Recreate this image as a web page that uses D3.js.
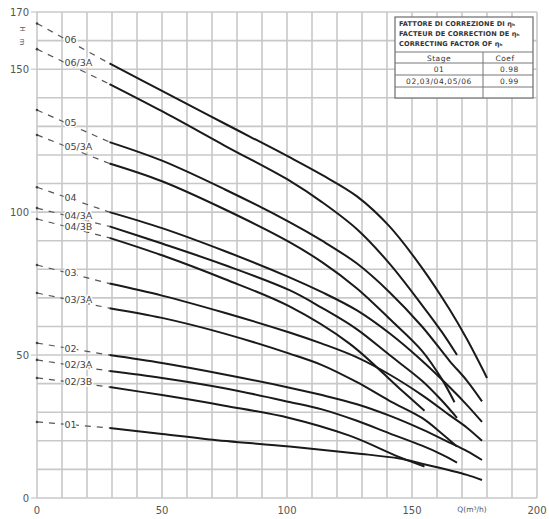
<!DOCTYPE html>
<html><head><meta charset="utf-8">
<script src="https://cdn.jsdelivr.net/npm/d3@7"></script>
<style>body{margin:0;background:#fff}svg{display:block}</style>
</head><body>
<svg id="c" width="549" height="519"></svg>
<script>
// ---- data ----
const curveNames = ["06","06/3A","05","05/3A","04","04/3A","04/3B","03","03/3A","02","02/3A","02/3B","01"];
const shutoffH = [166,157,135.7,127,108.7,101.4,97.6,81.5,71.7,54.2,48.3,42,26.6]; // H at Q=0 (dashed part)
const c06   = [[29,152],[50,142.4],[75,131],[101,119.2],[114,113],[128,105.5],[141,95],[154,80.5],[165,66],[172,55.5],[180,42]];
const c06_3A= [[29,144.8],[50,135.3],[75,123.3],[101,111],[114,103.5],[128,94],[141,82],[154,67.5],[162,58],[168,50]];
const c05   = [[29,124.5],[50,118],[75,108],[101,96.5],[114,90],[128,82],[141,72],[154,60],[165,48],[172,41],[178,33.8]];
const c05_3A= [[29,117],[50,110.8],[75,101],[101,89.5],[114,82.5],[128,73.3],[141,62.7],[154,51.5],[162,41.5],[167,33.5]];
const c04   = [[29,100],[50,94.4],[75,86.4],[101,77.2],[114,72],[128,65.6],[141,57.6],[154,48],[165,38.8],[172,32.5],[178,26.6]];
const c04_3A= [[29,95],[50,89],[75,81.5],[101,72.7],[114,66.5],[128,59],[141,50],[154,41],[162,34],[168,28]];
const c04_3B= [[29,91],[50,84.9],[75,76.6],[101,67],[125,54],[145,38.3],[155,30.5]];
const c03   = [[29,75],[50,70.8],[75,64.8],[101,57.9],[114,54],[128,49.2],[141,43.2],[154,36],[165,29],[172,24.6],[178,20]];
const c03_3A= [[29,66.4],[50,63],[75,57.5],[101,50.5],[114,46.5],[128,40.5],[141,34],[154,28],[162,22.5],[168,18]];
const c02   = [[29,50],[50,47.2],[75,43.2],[101,38.6],[114,36],[128,32.8],[141,28.8],[154,24],[165,19.4],[172,16.4],[178,13.3]];
const c02_3A= [[29,44.4],[50,42],[75,38.4],[101,33.6],[114,31],[128,27],[141,22.6],[154,18.3],[162,15.2],[168,12.4]];
const c02_3B= [[29,38.8],[50,36],[75,32.3],[101,28],[125,21.8],[145,14.3],[155,11]];
const c01   = [[29,24.5],[50,22.4],[69,20.5],[101,18],[128,15.6],[145,13.8],[154,12],[165,9.7],[172,8.1],[178,6.3]];
const curves = [c06,c06_3A,c05,c05_3A,c04,c04_3A,c04_3B,c03,c03_3A,c02,c02_3A,c02_3B,c01];
const xTicks = [0,50,100,150,200];
const yTicks = [0,50,100,150,170];
const legendTitle = ["FATTORE DI CORREZIONE DI \u03b7\u2095","FACTEUR DE CORRECTION DE \u03b7\u2095","CORRECTING FACTOR OF \u03b7\u2095"];
const legendHead = ["Stage","Coef"];
const legendStages = ["01","02,03/04,05/06"];
const legendCoefs = ["0.98","0.99"];

// ---- drawing ----
const svg = d3.select("#c");
const x = d3.scaleLinear([0,200],[37,537]);
const y = d3.scaleLinear([0,170],[498,12]);
const gridCol = "#c8c8c8", txtCol = "#555";

const g = svg.append("g");
g.selectAll("line.v").data(d3.range(0,201,10)).join("line")
  .attr("x1",d=>x(d)).attr("x2",d=>x(d)).attr("y1",y(0)).attr("y2",y(170))
  .attr("stroke",gridCol).attr("stroke-width",1.6);
g.selectAll("line.h").data(d3.range(0,171,10)).join("line")
  .attr("y1",d=>y(d)).attr("y2",d=>y(d)).attr("x1",x(0)).attr("x2",x(200))
  .attr("stroke",gridCol).attr("stroke-width",1.6);

// axes labels
svg.selectAll("text.yt").data(yTicks).join("text")
  .attr("x",29).attr("y",d=>y(d)+4).attr("text-anchor","end")
  .attr("font-family","DejaVu Sans, sans-serif").attr("font-size",10).attr("fill",txtCol).text(d=>d);
svg.selectAll("line.ytk").data(yTicks).join("line")
  .attr("x1",31).attr("x2",37).attr("y1",d=>y(d)).attr("y2",d=>y(d)).attr("stroke",gridCol).attr("stroke-width",1.2);
svg.selectAll("text.xt").data(xTicks).join("text")
  .attr("x",d=>x(d)).attr("y",514).attr("text-anchor","middle")
  .attr("font-family","DejaVu Sans, sans-serif").attr("font-size",10).attr("fill",txtCol).text(d=>d);
svg.append("text").attr("x",x(174)).attr("y",512).attr("text-anchor","middle")
  .attr("font-family","DejaVu Sans, sans-serif").attr("font-size",7.5).attr("fill",txtCol).text("Q(m\u00b3/h)");
svg.append("text").attr("transform","translate(20,29) rotate(90)").attr("text-anchor","middle")
  .attr("font-family","DejaVu Sans, sans-serif").attr("font-size",7).attr("fill",txtCol).text("H");
svg.append("text").attr("transform","translate(20,42) rotate(90)").attr("text-anchor","middle")
  .attr("font-family","DejaVu Sans, sans-serif").attr("font-size",7).attr("fill",txtCol).text("m");

// dashed extensions + labels
const line = d3.line().x(d=>x(d[0])).y(d=>y(d[1])).curve(d3.curveCatmullRom.alpha(0.5));
curves.forEach((c,i)=>{
  const p0=[0,shutoffH[i]], p1=c[0];
  svg.append("line").attr("x1",x(p0[0])).attr("y1",y(p0[1])).attr("x2",x(p1[0])).attr("y2",y(p1[1]))
    .attr("stroke","#555").attr("stroke-width",1.2).attr("stroke-dasharray","6,6");
  svg.append("circle").attr("cx",x(0)).attr("cy",y(p0[1])).attr("r",1.3).attr("fill","#444");
  const lq=11, lh=p0[1]+(p1[1]-p0[1])*lq/p1[0];
  svg.append("text").attr("x",x(lq)).attr("y",y(lh)+4)
    .attr("font-family","DejaVu Sans, sans-serif").attr("font-size",9.5).attr("fill","#444")
    .attr("stroke","#fff").attr("stroke-width",3).attr("paint-order","stroke").text(curveNames[i]);
  svg.append("path").attr("d",line(c)).attr("fill","none").attr("stroke","#1a1a1a").attr("stroke-width",2);
});

// legend table
const L = svg.append("g").attr("font-family","DejaVu Sans, sans-serif").attr("fill","#333");
const lx0=395, lx1=533, ly0=17, colX=483;
L.append("rect").attr("x",lx0).attr("y",ly0).attr("width",lx1-lx0).attr("height",81)
  .attr("fill","#fff").attr("stroke","#777").attr("stroke-width",1.3);
legendTitle.forEach((t,i)=>L.append("text").attr("x",lx0+4).attr("y",ly0+9+i*10).attr("font-size",6.6)
  .attr("letter-spacing",0.1).attr("font-weight","bold").attr("fill","#333").text(t));
const rows=[52,63,75,87];
rows.forEach(r=>L.append("line").attr("x1",lx0).attr("x2",lx1).attr("y1",r).attr("y2",r).attr("stroke","#777").attr("stroke-width",1));
L.append("line").attr("x1",colX).attr("x2",colX).attr("y1",52).attr("y2",98).attr("stroke","#777").attr("stroke-width",1);
L.append("text").attr("x",(lx0+colX)/2).attr("y",60.5).attr("text-anchor","middle").attr("font-size",7.5).attr("letter-spacing",0.5).text(legendHead[0]);
L.append("text").attr("x",505).attr("y",60.5).attr("text-anchor","middle").attr("font-size",7.5).attr("letter-spacing",0.5).text(legendHead[1]);
legendStages.forEach((s,i)=>{
  L.append("text").attr("x",(lx0+colX)/2).attr("y",72+i*12).attr("text-anchor","middle").attr("font-size",7.5).attr("letter-spacing",0.6).text(s);
  L.append("text").attr("x",519).attr("y",72+i*12).attr("text-anchor","end").attr("font-size",7.5).attr("letter-spacing",0.6).text(legendCoefs[i]);
});
</script>
</body></html>
